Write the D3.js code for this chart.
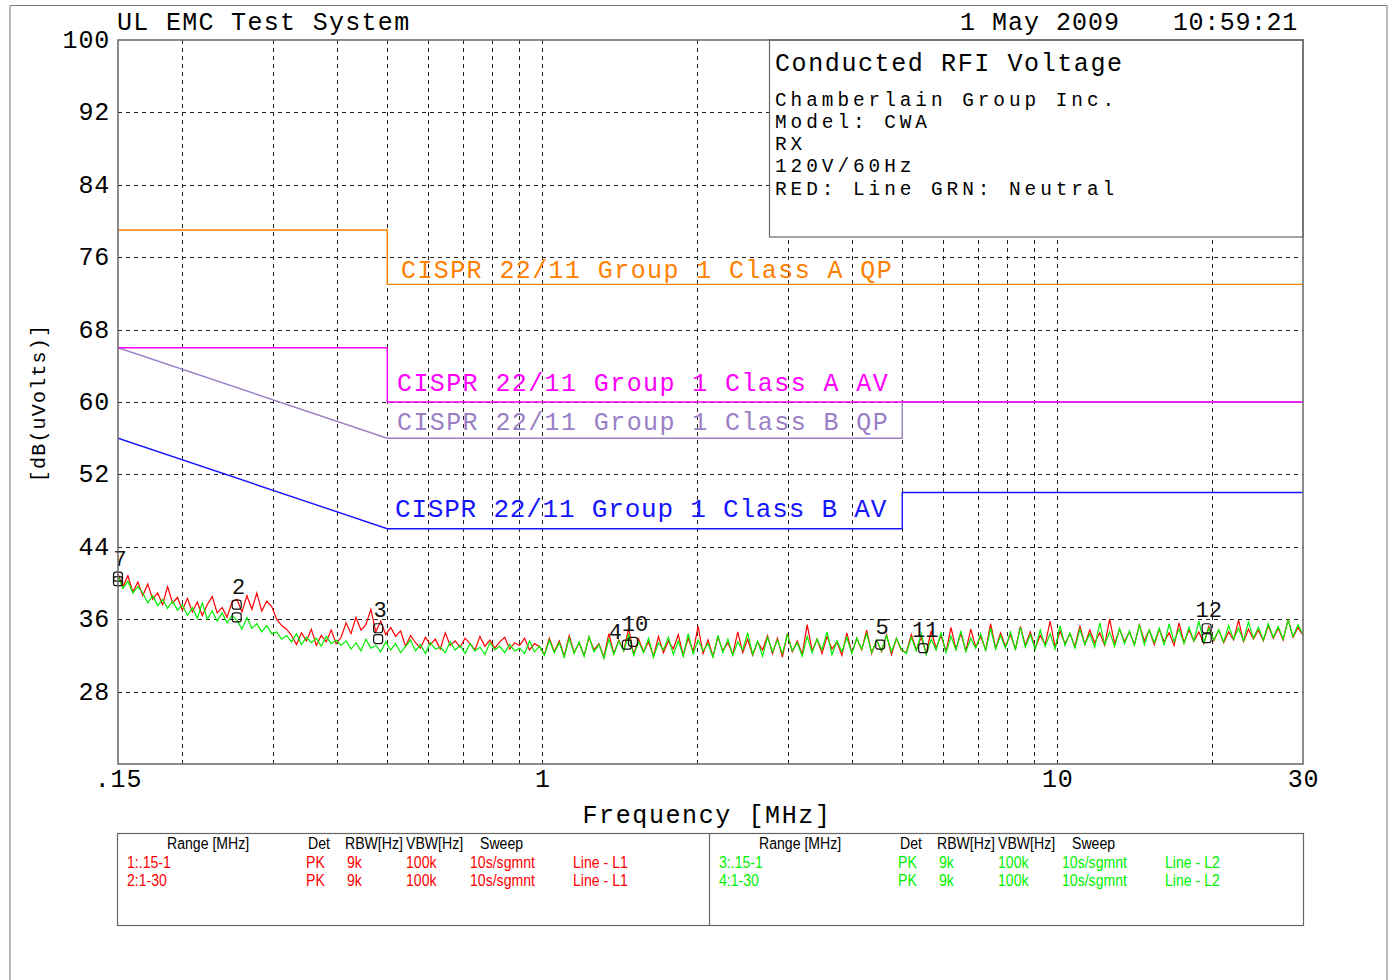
<!DOCTYPE html>
<html>
<head>
<meta charset="utf-8">
<script src="https://cdn.jsdelivr.net/npm/d3@7"></script>
<style>
  html, body { margin: 0; padding: 0; background: #fff; }
  svg { display: block; }
  .mono { font-family: "Liberation Mono", "DejaVu Sans Mono", monospace; }
  .sans { font-family: "Liberation Sans", "DejaVu Sans", sans-serif; }
</style>
</head>
<body>
<script>
// ---- Axis ranges and ticks ----
const freqDomain = [0.15, 30];
const dbDomain = [20, 100];
const yTicks = [100, 92, 84, 76, 68, 60, 52, 44, 36, 28];
const yGrid = [92, 84, 76, 68, 60, 52, 44, 36, 28];
const xTicks = [0.15, 1, 10, 30];
const xTickLabels = [".15", "1", "10", "30"];
const xGrid = [0.2, 0.3, 0.4, 0.5, 0.6, 0.7, 0.8, 0.9, 1, 2, 3, 4, 5, 6, 7, 8, 9, 10, 20];

// ---- CISPR 22 limit lines (frequency breakpoints in MHz, level in dBuV) ----
const classAQPFreq = [0.15, 0.5, 0.5, 30];
const classAQPLevel = [79, 79, 73, 73];
const classAAVFreq = [0.15, 0.5, 0.5, 30];
const classAAVLevel = [66, 66, 60, 60];
const classBQPFreq = [0.15, 0.5, 5, 5, 30];
const classBQPLevel = [66, 56, 56, 60, 60];
const classBAVFreq = [0.15, 0.5, 5, 5, 30];
const classBAVLevel = [56, 46, 46, 50, 50];

// ---- Measured spectra, sweep points evenly spaced on a log axis .15-30 MHz ----
const lineL1 = [
  41.0, 39.6, 40.8, 39.0, 40.1,
  38.6, 39.9, 38.2, 38.9, 37.6, 39.6, 37.8, 38.4,
  37.0, 38.3, 36.8, 37.9, 36.4, 37.6, 38.5, 36.7, 37.3, 36.2, 37.9,
  38.2, 36.8, 38.6, 37.1, 38.9, 36.9, 38.0, 37.4,
  36.0, 35.3, 34.9, 34.2,
  33.2, 34.5, 33.6, 34.9, 33.1, 34.2, 33.5, 34.8, 33.3, 34.0,
  35.6, 34.4, 36.2, 34.8, 35.4, 37.1, 34.6, 35.8, 34.3, 35.1, 34.1, 34.7,
  33.0, 34.2, 33.4, 32.8, 34.0, 33.2, 33.8, 32.7, 34.5, 33.1, 33.6, 32.9, 33.9, 33.3,
  32.6, 34.1, 33.0, 33.7, 32.8, 33.5, 34.0, 32.7, 33.4, 33.1, 33.9, 32.6, 33.3, 33.0,
  32.1, 33.9, 32.4, 33.6, 31.9, 34.2, 32.3, 33.4, 32.0, 34.0,
  32.6, 33.3, 31.8, 34.4, 32.2, 33.7, 32.5, 35.0, 32.1, 33.8,
  32.4, 33.5, 31.9, 34.1, 32.3, 33.6, 32.7, 34.3, 32.0, 33.9,
  32.4, 35.2, 32.2, 33.7, 31.9, 34.0, 32.5, 33.4, 32.1, 34.6,
  32.3, 33.8, 32.0, 33.5, 32.6, 34.2, 32.2, 33.9, 31.8, 34.4,
  32.4, 33.6, 32.1, 35.4, 32.5, 33.8, 32.2, 34.1, 32.7, 33.5,
  32.0, 34.5, 32.3, 33.9, 32.6, 34.8, 32.2, 33.7, 32.4, 34.3,
  32.1, 33.9, 32.6,
  32.3, 34.3, 32.6, 34.0, 32.2, 34.7, 32.8, 34.2, 32.4, 35.1,
  32.7, 34.4, 32.5, 34.9, 32.9, 34.1, 32.6, 35.5, 32.8, 34.5,
  33.0, 34.3, 32.7, 35.2, 33.1, 34.6, 32.8, 34.2, 33.2, 35.8,
  32.9, 34.7, 33.3, 34.4, 33.0, 35.3, 33.2, 34.8, 33.4, 34.5,
  33.1, 36.0, 33.3, 34.9, 33.5, 34.6, 33.2, 35.4, 33.6, 34.8,
  33.2, 34.9, 33.5, 34.5, 33.1, 35.6, 33.4, 34.8, 33.6, 34.6,
  33.3, 35.2, 33.6, 34.8, 33.4, 34.6, 33.7, 35.9, 33.5, 34.9,
  33.8, 34.8, 33.6, 35.3, 33.9, 35.0, 33.7, 36.0, 34.0, 35.1, 34.2
];
const lineL2 = [
  40.8, 39.4, 40.2, 38.9, 39.6,
  38.9, 37.8, 38.6, 37.5, 38.2, 37.2, 38.0, 37.0,
  37.6, 36.4, 37.3, 36.1, 37.8, 36.0, 36.9, 35.8, 36.7, 35.6, 36.4,
  35.9, 34.9, 36.2, 35.0, 35.5, 34.6, 35.3, 34.4,
  34.6, 33.8, 34.2, 33.5, 34.4, 33.2, 34.0, 33.4, 33.9, 33.0, 34.1, 33.3, 33.7, 33.1,
  33.6, 32.7, 33.4, 32.5, 33.8, 32.8, 33.1, 32.4, 33.5, 32.6, 33.3, 32.3, 33.0, 33.7,
  32.5, 33.2, 32.2, 33.4, 32.7, 32.9, 32.3, 33.5, 32.6, 33.1, 32.2, 33.3, 32.5, 32.9,
  32.1, 33.4, 32.6, 33.0, 32.3, 33.2, 32.5, 32.8, 32.2, 33.6, 32.4, 33.0,
  32.0, 33.7, 32.3, 33.4, 31.8, 33.9, 32.2, 33.5, 31.9, 34.1,
  32.4, 33.2, 31.7, 33.8, 32.1, 33.6, 32.5, 34.3, 32.0, 33.5,
  32.3, 33.9, 31.8, 33.4, 32.6, 34.0, 32.1, 33.6, 31.9, 34.4,
  32.2, 33.7, 32.5, 33.3, 31.8, 34.2, 32.3, 33.8, 32.0, 33.5,
  32.6, 34.5, 32.1, 33.6, 31.9, 34.0, 32.4, 33.7, 32.2, 34.3,
  32.5, 33.4, 31.9, 34.1, 32.3, 33.8, 32.6, 34.6, 32.1, 33.6,
  32.4, 34.0, 32.2, 33.9, 32.7, 34.4, 32.3, 33.7, 32.5, 34.2,
  32.4, 33.9, 32.7,
  32.2, 34.0, 32.5, 34.4, 32.1, 33.8, 32.6, 34.5, 32.3, 34.1,
  32.6, 34.7, 32.4, 33.9, 32.8, 34.4, 32.5, 35.0, 32.7, 34.2,
  32.8, 34.6, 32.6, 35.1, 32.9, 34.3, 32.7, 34.8, 33.0, 34.4,
  32.7, 35.3, 33.1, 34.5, 32.8, 34.9, 33.2, 34.4, 32.9, 35.6,
  33.2, 34.6, 33.0, 35.0, 33.3, 34.7, 33.1, 35.4, 33.2, 34.8,
  33.4, 35.0, 33.1, 35.5, 33.5, 34.9, 33.3, 35.1, 33.6, 35.8,
  33.4, 35.0, 33.7, 34.8, 33.5, 35.3, 33.8, 35.0, 33.6, 35.7,
  33.9, 35.1, 33.7, 35.5, 34.0, 35.2, 33.8, 35.9, 34.1, 35.4, 34.3
];

// ---- Peak markers: number, frequency (MHz), level (dBuV) ----
const markerIds = [1, 7, 2, 8, 3, 9, 4, 10, 5, 11, 6, 12];
const markerFreq = [0.150, 0.150, 0.255, 0.255, 0.48, 0.48, 1.46, 1.50, 4.53, 5.49, 19.5, 19.5];
const markerLevel = [40.2, 40.7, 37.6, 36.2, 35.0, 33.8, 33.2, 33.5, 33.2, 32.8, 33.9, 35.0];

// ---- Header / info / table text ----
const headerLeft = "UL EMC Test System";
const headerDate = "1 May 2009";
const headerTime = "10:59:21";
const infoTitle = "Conducted RFI Voltage";
const infoLines = ["Chamberlain Group Inc.", "Model: CWA", "RX", "120V/60Hz", "RED: Line GRN: Neutral"];
const limitLabels = [
  "CISPR 22/11 Group 1 Class A QP",
  "CISPR 22/11 Group 1 Class A AV",
  "CISPR 22/11 Group 1 Class B QP",
  "CISPR 22/11 Group 1 Class B AV"
];
const tableHeaders = ["Range [MHz]", "Det", "RBW[Hz]", "VBW[Hz]", "Sweep"];
const tableRowsL1 = [
  ["1:.15-1", "PK", "9k", "100k", "10s/sgmnt", "Line - L1"],
  ["2:1-30", "PK", "9k", "100k", "10s/sgmnt", "Line - L1"]
];
const tableRowsL2 = [
  ["3:.15-1", "PK", "9k", "100k", "10s/sgmnt", "Line - L2"],
  ["4:1-30", "PK", "9k", "100k", "10s/sgmnt", "Line - L2"]
];

// ---- Layout ----
const W = 1395, H = 980;
const plot = { left: 118, right: 1303, top: 40, bottom: 764 };
const colors = {
  aqp: "#ff8000", aav: "#ff00ff", bqp: "#9a7fc6", bav: "#1414ff",
  red: "#ff0000", green: "#00f000", grid: "#222", frame: "#666"
};

const svg = d3.select("body").append("svg").attr("width", W).attr("height", H);

const x = d3.scaleLog().domain(freqDomain).range([plot.left, plot.right]);
const y = d3.scaleLinear().domain(dbDomain).range([plot.bottom, plot.top]);

// outer page border
svg.append("path")
  .attr("d", `M10,${H + 5} V5.5 H1387 V${H + 5}`)
  .attr("fill", "none").attr("stroke", "#777").attr("stroke-width", 1);

// helper for spaced monospace text
function mtext(g, str, px, py, size, spacing, color, anchor) {
  return g.append("text")
    .attr("class", "mono")
    .attr("x", px).attr("y", py)
    .attr("font-size", size)
    .attr("letter-spacing", spacing)
    .attr("fill", color || "#000")
    .attr("text-anchor", anchor || "start")
    .text(str);
}

// header
mtext(svg, headerLeft, 117, 30, 25, 1.3);
mtext(svg, headerDate, 960, 30, 25, 1.0);
mtext(svg, headerTime, 1173, 30, 25, 0.6);

// grid
const grid = svg.append("g").attr("stroke", colors.grid).attr("stroke-width", 1)
  .attr("stroke-dasharray", "4,4");
grid.selectAll("line.h").data(yGrid).join("line").attr("class", "h")
  .attr("x1", plot.left).attr("x2", plot.right)
  .attr("y1", d => Math.round(y(d)) + 0.5).attr("y2", d => Math.round(y(d)) + 0.5);
grid.selectAll("line.v").data(xGrid).join("line").attr("class", "v")
  .attr("y1", plot.top).attr("y2", plot.bottom)
  .attr("x1", d => Math.round(x(d)) + 0.5).attr("x2", d => Math.round(x(d)) + 0.5);

// y axis tick labels
const yAxis = d3.axisLeft(y).tickValues(yTicks).tickSize(0).tickPadding(8).tickFormat(d3.format("d"));
const gy = svg.append("g").attr("transform", `translate(${plot.left},0)`).call(yAxis);
gy.select(".domain").remove();
gy.selectAll("text").attr("class", "mono").attr("font-size", 25).attr("fill", "#000")
  .attr("letter-spacing", 0.8).attr("dy", "0.3em");

// x axis tick labels
const xAxis = d3.axisBottom(x).tickValues(xTicks).tickSize(0).tickPadding(10)
  .tickFormat((d, i) => xTickLabels[i]);
const gx = svg.append("g").attr("transform", `translate(0,${plot.bottom})`).call(xAxis);
gx.select(".domain").remove();
gx.selectAll("text").attr("class", "mono").attr("font-size", 25).attr("fill", "#000")
  .attr("letter-spacing", 0.8).attr("dy", "0.5em");

// axis titles
mtext(svg, "Frequency [MHz]", 707, 823, 25, 1.6, "#000", "middle");
mtext(svg, "[dB(uVolts)]", 0, 0, 20, 1.2, "#000", "middle")
  .attr("transform", "translate(45,403) rotate(-90)");

// info box
svg.append("rect").attr("x", 769.5).attr("y", plot.top).attr("width", plot.right - 769.5)
  .attr("height", 237 - plot.top).attr("fill", "#fff").attr("stroke", colors.frame).attr("stroke-width", 1.2);
mtext(svg, infoTitle, 775, 71, 25, 1.6);
const infoY = [106, 128, 150, 172, 195];
infoLines.forEach((s, i) => mtext(svg, s, 775, infoY[i], 19.4, 3.96));

// clip for plotted data
svg.append("clipPath").attr("id", "plotclip").append("rect")
  .attr("x", plot.left).attr("y", plot.top)
  .attr("width", plot.right - plot.left).attr("height", plot.bottom - plot.top);

const data = svg.append("g").attr("clip-path", "url(#plotclip)");

// limit lines
const limLine = d3.line().x(d => x(d[0])).y(d => y(d[1]));
const zip = (f, v) => f.map((d, i) => [d, v[i]]);
[
  [classBQPFreq, classBQPLevel, colors.bqp],
  [classAAVFreq, classAAVLevel, colors.aav],
  [classBAVFreq, classBAVLevel, colors.bav],
  [classAQPFreq, classAQPLevel, colors.aqp]
].forEach(([f, v, c]) => {
  data.append("path").attr("d", limLine(zip(f, v)))
    .attr("fill", "none").attr("stroke", c).attr("stroke-width", 1.4);
});

// measured traces
const sweep = arr => arr.map((v, i) => [freqDomain[0] * Math.pow(freqDomain[1] / freqDomain[0], i / (arr.length - 1)), v]);
const traceLine = d3.line().x(d => x(d[0])).y(d => y(d[1]));
data.append("path").attr("d", traceLine(sweep(lineL1)))
  .attr("fill", "none").attr("stroke", colors.red).attr("stroke-width", 1.2);
data.append("path").attr("d", traceLine(sweep(lineL2)))
  .attr("fill", "none").attr("stroke", colors.green).attr("stroke-width", 1.2);

// limit labels
const limitLabelPos = [[401, 278, colors.aqp, 25], [397, 391, colors.aav, 25], [397, 430, colors.bqp, 25], [395, 517, colors.bav, 26]];
limitLabels.forEach((s, i) => {
  const p = limitLabelPos[i];
  mtext(svg, s, p[0], p[1], p[3], p[3] === 26 ? 0.8 : 1.4, p[2]);
});

// markers: the number sits above its box; a marker sharing its frequency with a
// higher one keeps only the box, a close lower neighbour puts its number to the left
const mk = svg.append("g");
const mpos = markerIds.map((id, i) => ({ id, mx: x(markerFreq[i]), my: y(markerLevel[i]), v: markerLevel[i] }));
mpos.forEach((m, i) => {
  mk.append("rect").attr("x", m.mx - 4.5).attr("y", m.my - 4.5).attr("width", 9).attr("height", 9)
    .attr("rx", 2.5).attr("fill", "none").attr("stroke", "#111").attr("stroke-width", 1.2);
  const higher = mpos.find((o, j) => j !== i && Math.abs(o.mx - m.mx) < 20 && o.v > m.v);
  if (higher && Math.abs(higher.mx - m.mx) < 2) return;
  const t = mk.append("text").attr("class", "mono").attr("font-size", 22).attr("fill", "#111").text(m.id);
  if (higher) {
    t.attr("x", m.mx - 5).attr("y", m.my - 6).attr("text-anchor", "end");
  } else {
    t.attr("x", m.mx + 2).attr("y", m.my - 11).attr("text-anchor", "middle");
  }
});

// plot frame
svg.append("rect").attr("x", plot.left).attr("y", plot.top)
  .attr("width", plot.right - plot.left).attr("height", plot.bottom - plot.top)
  .attr("fill", "none").attr("stroke", colors.frame).attr("stroke-width", 1.5);

// settings table
const tbl = { top: 833, bottom: 925, left: 117, mid: 709, right: 1303 };
svg.append("rect").attr("x", tbl.left + 0.5).attr("y", tbl.top + 0.5)
  .attr("width", tbl.right - tbl.left).attr("height", tbl.bottom - tbl.top)
  .attr("fill", "none").attr("stroke", colors.frame).attr("stroke-width", 1.2);
svg.append("line").attr("x1", tbl.mid + 0.5).attr("x2", tbl.mid + 0.5)
  .attr("y1", tbl.top).attr("y2", tbl.bottom).attr("stroke", colors.frame).attr("stroke-width", 1.2);

const headerCols = [50, 191, 228, 289, 363];
const rowCols = [10, 189, 230, 289, 353, 456];
const rowY = [868, 886];
// condensed table type: regular sans squeezed horizontally
function tableText(g, s, px, py, color) {
  const t = g.append("text").attr("class", "sans").attr("x", px).attr("y", py)
    .attr("font-size", 16).attr("fill", color).text(s);
  const len = t.node().getComputedTextLength();
  t.attr("textLength", len * 0.88).attr("lengthAdjust", "spacingAndGlyphs");
}
[[tbl.left, tableRowsL1, colors.red], [tbl.mid, tableRowsL2, colors.green]].forEach(([ox, rows, c]) => {
  const g = svg.append("g");
  tableHeaders.forEach((h, i) => tableText(g, h, ox + headerCols[i], 849, "#000"));
  rows.forEach((r, j) => r.forEach((s, i) => tableText(g, s, ox + rowCols[i], rowY[j], c)));
});
</script>
</body>
</html>
